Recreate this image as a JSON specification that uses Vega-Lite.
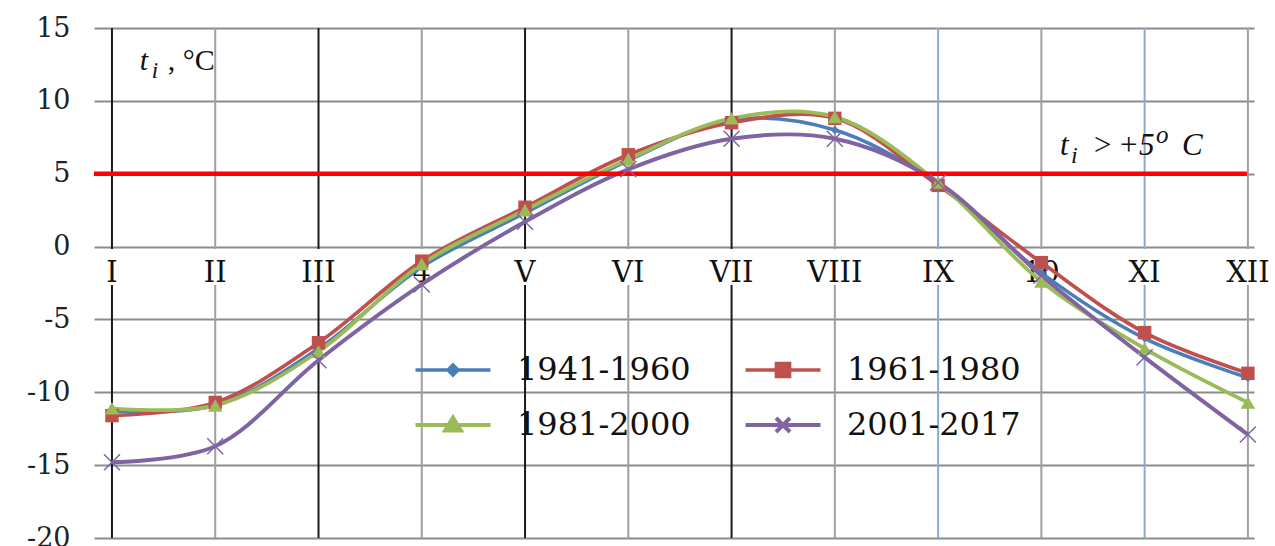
{
 "$schema": "https://vega.github.io/schema/vega-lite/v6.json",
 "width": 1160, "height": 510,
 "autosize": {"type": "none"},
 "padding": {"left": 94, "top": 28, "right": 21, "bottom": 8},
 "background": "white",
 "config": {
  "view": {"stroke": null},
  "axisY": {"grid": true, "gridColor": "#8c8c8c", "gridWidth": 2, "domain": false, "ticks": false, "labelFont": "DejaVu Serif", "labelFontSize": 27, "labelColor": "#222", "labelPadding": 24, "tickCount": 8, "labelExpr": "toString(datum.value)"}
 },
 "datasets": {
  "months": [
   {"m": 1, "label": "I", "kind": "major"}, {"m": 2, "label": "II", "kind": "minor"},
   {"m": 3, "label": "III", "kind": "major"}, {"m": 4, "label": "4", "kind": "minor"},
   {"m": 5, "label": "V", "kind": "major"}, {"m": 6, "label": "VI", "kind": "minor"},
   {"m": 7, "label": "VII", "kind": "major"}, {"m": 8, "label": "VIII", "kind": "minor"},
   {"m": 9, "label": "IX", "kind": "blue"}, {"m": 10, "label": "10", "kind": "minor"},
   {"m": 11, "label": "XI", "kind": "blue"}, {"m": 12, "label": "XII", "kind": "minor"}
  ],
  "series": [
   {"period": "1941-1960", "m": 1, "t": -11.3}, {"period": "1941-1960", "m": 2, "t": -10.9}, {"period": "1941-1960", "m": 3, "t": -7.0}, {"period": "1941-1960", "m": 4, "t": -1.4}, {"period": "1941-1960", "m": 5, "t": 2.3}, {"period": "1941-1960", "m": 6, "t": 5.9}, {"period": "1941-1960", "m": 7, "t": 8.7}, {"period": "1941-1960", "m": 8, "t": 8.0}, {"period": "1941-1960", "m": 9, "t": 4.3}, {"period": "1941-1960", "m": 10, "t": -1.8}, {"period": "1941-1960", "m": 11, "t": -6.3}, {"period": "1941-1960", "m": 12, "t": -9.0},
   {"period": "1961-1980", "m": 1, "t": -11.6}, {"period": "1961-1980", "m": 2, "t": -10.7}, {"period": "1961-1980", "m": 3, "t": -6.6}, {"period": "1961-1980", "m": 4, "t": -1.0}, {"period": "1961-1980", "m": 5, "t": 2.7}, {"period": "1961-1980", "m": 6, "t": 6.3}, {"period": "1961-1980", "m": 7, "t": 8.5}, {"period": "1961-1980", "m": 8, "t": 8.8}, {"period": "1961-1980", "m": 9, "t": 4.2}, {"period": "1961-1980", "m": 10, "t": -1.1}, {"period": "1961-1980", "m": 11, "t": -5.9}, {"period": "1961-1980", "m": 12, "t": -8.7},
   {"period": "1981-2000", "m": 1, "t": -11.1}, {"period": "1981-2000", "m": 2, "t": -10.9}, {"period": "1981-2000", "m": 3, "t": -7.2}, {"period": "1981-2000", "m": 4, "t": -1.2}, {"period": "1981-2000", "m": 5, "t": 2.5}, {"period": "1981-2000", "m": 6, "t": 6.0}, {"period": "1981-2000", "m": 7, "t": 8.8}, {"period": "1981-2000", "m": 8, "t": 8.9}, {"period": "1981-2000", "m": 9, "t": 4.4}, {"period": "1981-2000", "m": 10, "t": -2.4}, {"period": "1981-2000", "m": 11, "t": -7.0}, {"period": "1981-2000", "m": 12, "t": -10.7},
   {"period": "2001-2017", "m": 1, "t": -14.8}, {"period": "2001-2017", "m": 2, "t": -13.7}, {"period": "2001-2017", "m": 3, "t": -7.8}, {"period": "2001-2017", "m": 4, "t": -2.6}, {"period": "2001-2017", "m": 5, "t": 1.7}, {"period": "2001-2017", "m": 6, "t": 5.3}, {"period": "2001-2017", "m": 7, "t": 7.4}, {"period": "2001-2017", "m": 8, "t": 7.4}, {"period": "2001-2017", "m": 9, "t": 4.4}, {"period": "2001-2017", "m": 10, "t": -2.0}, {"period": "2001-2017", "m": 11, "t": -7.6}, {"period": "2001-2017", "m": 12, "t": -12.9}
  ]
 },
 "layer": [
  {
   "data": {"name": "months"},
   "mark": {"type": "rule", "strokeWidth": 2},
   "encoding": {
    "x": {"field": "m", "type": "quantitative", "scale": {"domain": [0.826, 12.059], "nice": false, "zero": false}, "axis": null},
    "y": {"datum": 15, "type": "quantitative", "scale": {"domain": [-20, 15], "nice": false, "zero": false}, "title": null},
    "y2": {"datum": -20},
    "stroke": {"field": "kind", "type": "nominal", "scale": {"domain": ["major", "minor", "blue"], "range": ["#1a1a1a", "#a0a0a0", "#8aaad6"]}, "legend": null}
   }
  },
  {
   "data": {"name": "months"},
   "mark": {"type": "rect", "fill": "white", "width": 46, "height": 36},
   "encoding": {
    "x": {"field": "m", "type": "quantitative", "scale": {"domain": [0.826, 12.059], "nice": false, "zero": false}, "axis": null},
    "y": {"datum": -1.4, "type": "quantitative", "scale": {"domain": [-20, 15], "nice": false, "zero": false}, "title": null}
   }
  },
  {
   "data": {"name": "months"},
   "mark": {"type": "text", "font": "DejaVu Serif", "fontSize": 29, "color": "#111", "baseline": "alphabetic", "align": "center"},
   "encoding": {
    "x": {"field": "m", "type": "quantitative", "scale": {"domain": [0.826, 12.059], "nice": false, "zero": false}, "axis": null},
    "y": {"datum": -2.45, "type": "quantitative", "scale": {"domain": [-20, 15], "nice": false, "zero": false}, "title": null},
    "text": {"field": "label"}
   }
  },
  {
   "data": {"name": "series"},
   "mark": {"type": "line", "interpolate": "catmull-rom"},
   "encoding": {
    "x": {"field": "m", "type": "quantitative", "scale": {"domain": [0.826, 12.059], "nice": false, "zero": false}, "axis": null},
    "y": {"field": "t", "type": "quantitative", "scale": {"domain": [-20, 15], "nice": false, "zero": false}, "title": null},
    "color": {"field": "period", "type": "nominal", "scale": {"domain": ["1941-1960", "1961-1980", "1981-2000", "2001-2017"], "range": ["#4a7ebb", "#c0504d", "#9bbb59", "#8064a2"]}},
    "strokeWidth": {"field": "period", "type": "nominal", "scale": {"domain": ["1941-1960", "1961-1980", "1981-2000", "2001-2017"], "range": [3.5, 4, 5, 3.5]}, "legend": null}
   }
  },
  {
   "data": {"values": [{}]},
   "mark": {"type": "rule", "color": "#ff0000", "strokeWidth": 4.5},
   "encoding": {
    "x": {"datum": 0.826, "type": "quantitative", "scale": {"domain": [0.826, 12.059], "nice": false, "zero": false}, "axis": null},
    "x2": {"datum": 11.99},
    "y": {"datum": 5, "type": "quantitative", "scale": {"domain": [-20, 15], "nice": false, "zero": false}, "title": null}
   }
  },
  {
   "data": {"name": "series"},
   "transform": [{"filter": "datum.period === '1941-1960'"}],
   "mark": {"type": "point", "shape": "diamond", "filled": true, "size": 70, "color": "#4a7ebb", "opacity": 1},
   "encoding": {
    "x": {"field": "m", "type": "quantitative", "scale": {"domain": [0.826, 12.059], "nice": false, "zero": false}, "axis": null},
    "y": {"field": "t", "type": "quantitative", "scale": {"domain": [-20, 15], "nice": false, "zero": false}, "title": null}
   }
  },
  {
   "data": {"name": "series"},
   "transform": [{"filter": "datum.period === '1961-1980'"}],
   "mark": {"type": "point", "shape": "square", "filled": true, "size": 180, "color": "#c0504d", "opacity": 1},
   "encoding": {
    "x": {"field": "m", "type": "quantitative", "scale": {"domain": [0.826, 12.059], "nice": false, "zero": false}, "axis": null},
    "y": {"field": "t", "type": "quantitative", "scale": {"domain": [-20, 15], "nice": false, "zero": false}, "title": null}
   }
  },
  {
   "data": {"name": "series"},
   "transform": [{"filter": "datum.period === '1981-2000'"}],
   "mark": {"type": "point", "shape": "triangle-up", "filled": true, "size": 210, "color": "#9bbb59", "opacity": 1},
   "encoding": {
    "x": {"field": "m", "type": "quantitative", "scale": {"domain": [0.826, 12.059], "nice": false, "zero": false}, "axis": null},
    "y": {"field": "t", "type": "quantitative", "scale": {"domain": [-20, 15], "nice": false, "zero": false}, "title": null}
   }
  },
  {
   "data": {"name": "series"},
   "transform": [{"filter": "datum.period === '2001-2017'"}],
   "mark": {"type": "point", "shape": "M-1,-1L1,1M-1,1L1,-1", "filled": false, "size": 256, "color": "#8064a2", "strokeWidth": 1.5, "opacity": 1},
   "encoding": {
    "x": {"field": "m", "type": "quantitative", "scale": {"domain": [0.826, 12.059], "nice": false, "zero": false}, "axis": null},
    "y": {"field": "t", "type": "quantitative", "scale": {"domain": [-20, 15], "nice": false, "zero": false}, "title": null}
   }
  },
  {
   "data": {"name": "series"},
   "mark": {"type": "point", "filled": true, "opacity": 0, "size": 400},
   "encoding": {
    "x": {"field": "m", "type": "quantitative", "scale": {"domain": [0.826, 12.059], "nice": false, "zero": false}, "axis": null},
    "y": {"field": "t", "type": "quantitative", "scale": {"domain": [-20, 15], "nice": false, "zero": false}, "title": null},
    "color": {"field": "period", "type": "nominal", "scale": {"domain": ["1941-1960", "1961-1980", "1981-2000", "2001-2017"], "range": ["#4a7ebb", "#c0504d", "#9bbb59", "#8064a2"]},
     "legend": {"orient": "none", "direction": "horizontal", "legendX": 343, "legendY": 326, "title": null, "columns": 2, "symbolSize": 400, "symbolStrokeWidth": 3.5, "symbolOpacity": 1, "labelFont": "DejaVu Serif", "labelFontSize": 32, "labelColor": "#111", "labelOffset": 48, "labelLimit": 400, "rowPadding": 23, "columnPadding": 46, "padding": 0,
      "encode": {"symbols": {"update": {"fill": {"scale": "color", "field": "value"}, "stroke": {"scale": "color", "field": "value"}, "opacity": {"value": 1}}}}}},
    "shape": {"field": "period", "type": "nominal", "scale": {"domain": ["1941-1960", "1961-1980", "1981-2000", "2001-2017"], "range": ["M-3.75,0H3.75M0,-0.5L0.5,0L0,0.5L-0.5,0Z", "M-3.75,0H3.75M-0.65,-0.65H0.65V0.65H-0.65Z", "M-3.75,0H3.75M0,-0.75L0.8,0.55H-0.8Z", "M-3.75,0H3.75M-0.7,-0.7L0.7,0.7M-0.7,0.7L0.7,-0.7"]},
     "legend": {"orient": "none", "direction": "horizontal", "legendX": 343, "legendY": 326, "title": null, "columns": 2, "symbolSize": 400, "symbolStrokeWidth": 3.5, "symbolOpacity": 1, "labelFont": "DejaVu Serif", "labelFontSize": 32, "labelColor": "#111", "labelOffset": 48, "labelLimit": 400, "rowPadding": 23, "columnPadding": 46, "padding": 0,
      "encode": {"symbols": {"update": {"fill": {"scale": "color", "field": "value"}, "stroke": {"scale": "color", "field": "value"}, "opacity": {"value": 1}}}}}}
   }
  },
  {
   "data": {"values": [{}]},
   "mark": {"type": "text", "text": "t", "font": "Liberation Serif", "fontStyle": "italic", "fontSize": 30, "align": "left", "baseline": "alphabetic", "color": "#111"},
   "encoding": {
    "x": {"datum": 1.27, "type": "quantitative", "scale": {"domain": [0.826, 12.059], "nice": false, "zero": false}, "axis": null},
    "y": {"datum": 12.12, "type": "quantitative", "scale": {"domain": [-20, 15], "nice": false, "zero": false}, "title": null}
   }
  },
  {
   "data": {"values": [{}]},
   "mark": {"type": "text", "text": "i", "font": "Liberation Serif", "fontStyle": "italic", "fontSize": 23, "align": "left", "baseline": "alphabetic", "dx": 12, "dy": 8, "color": "#111"},
   "encoding": {
    "x": {"datum": 1.27, "type": "quantitative", "scale": {"domain": [0.826, 12.059], "nice": false, "zero": false}, "axis": null},
    "y": {"datum": 12.12, "type": "quantitative", "scale": {"domain": [-20, 15], "nice": false, "zero": false}, "title": null}
   }
  },
  {
   "data": {"values": [{}]},
   "mark": {"type": "text", "text": ", °C", "font": "Liberation Serif", "fontSize": 30, "align": "left", "baseline": "alphabetic", "dx": 28, "color": "#111"},
   "encoding": {
    "x": {"datum": 1.27, "type": "quantitative", "scale": {"domain": [0.826, 12.059], "nice": false, "zero": false}, "axis": null},
    "y": {"datum": 12.12, "type": "quantitative", "scale": {"domain": [-20, 15], "nice": false, "zero": false}, "title": null}
   }
  },
  {
   "data": {"values": [{}]},
   "mark": {"type": "text", "text": "t", "font": "Liberation Serif", "fontStyle": "italic", "fontSize": 31, "align": "left", "baseline": "alphabetic", "color": "#111"},
   "encoding": {
    "x": {"datum": 10.18, "type": "quantitative", "scale": {"domain": [0.826, 12.059], "nice": false, "zero": false}, "axis": null},
    "y": {"datum": 6.28, "type": "quantitative", "scale": {"domain": [-20, 15], "nice": false, "zero": false}, "title": null}
   }
  },
  {
   "data": {"values": [{}]},
   "mark": {"type": "text", "text": "i", "font": "Liberation Serif", "fontStyle": "italic", "fontSize": 24, "align": "left", "baseline": "alphabetic", "dx": 11, "dy": 8, "color": "#111"},
   "encoding": {
    "x": {"datum": 10.18, "type": "quantitative", "scale": {"domain": [0.826, 12.059], "nice": false, "zero": false}, "axis": null},
    "y": {"datum": 6.28, "type": "quantitative", "scale": {"domain": [-20, 15], "nice": false, "zero": false}, "title": null}
   }
  },
  {
   "data": {"values": [{}]},
   "mark": {"type": "text", "text": ">", "font": "Liberation Serif", "fontStyle": "italic", "fontSize": 31, "align": "left", "baseline": "alphabetic", "dx": 32, "color": "#111"},
   "encoding": {
    "x": {"datum": 10.18, "type": "quantitative", "scale": {"domain": [0.826, 12.059], "nice": false, "zero": false}, "axis": null},
    "y": {"datum": 6.28, "type": "quantitative", "scale": {"domain": [-20, 15], "nice": false, "zero": false}, "title": null}
   }
  },
  {
   "data": {"values": [{}]},
   "mark": {"type": "text", "text": "+5", "font": "Liberation Serif", "fontStyle": "italic", "fontSize": 31, "align": "left", "baseline": "alphabetic", "dx": 58, "color": "#111"},
   "encoding": {
    "x": {"datum": 10.18, "type": "quantitative", "scale": {"domain": [0.826, 12.059], "nice": false, "zero": false}, "axis": null},
    "y": {"datum": 6.28, "type": "quantitative", "scale": {"domain": [-20, 15], "nice": false, "zero": false}, "title": null}
   }
  },
  {
   "data": {"values": [{}]},
   "mark": {"type": "text", "text": "o", "font": "Liberation Serif", "fontStyle": "italic", "fontSize": 25, "align": "left", "baseline": "alphabetic", "dx": 96, "dy": -12, "color": "#111"},
   "encoding": {
    "x": {"datum": 10.18, "type": "quantitative", "scale": {"domain": [0.826, 12.059], "nice": false, "zero": false}, "axis": null},
    "y": {"datum": 6.28, "type": "quantitative", "scale": {"domain": [-20, 15], "nice": false, "zero": false}, "title": null}
   }
  },
  {
   "data": {"values": [{}]},
   "mark": {"type": "text", "text": "C", "font": "Liberation Serif", "fontStyle": "italic", "fontSize": 31, "align": "left", "baseline": "alphabetic", "dx": 122, "color": "#111"},
   "encoding": {
    "x": {"datum": 10.18, "type": "quantitative", "scale": {"domain": [0.826, 12.059], "nice": false, "zero": false}, "axis": null},
    "y": {"datum": 6.28, "type": "quantitative", "scale": {"domain": [-20, 15], "nice": false, "zero": false}, "title": null}
   }
  }
 ]
}
